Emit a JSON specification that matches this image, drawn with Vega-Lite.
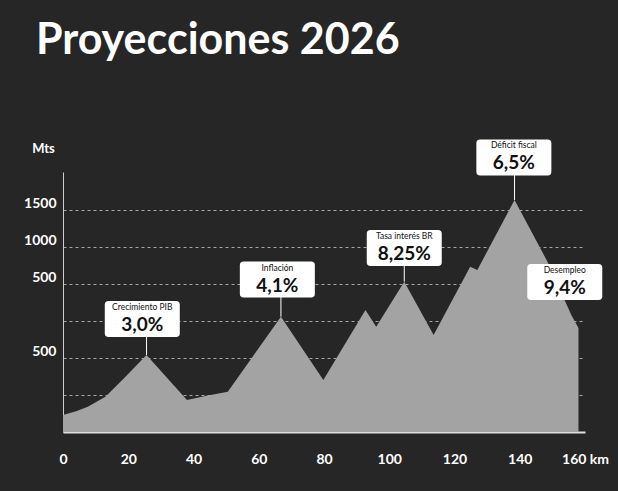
{
  "$schema": "https://vega.github.io/schema/vega-lite/v6.json",
  "width": 522,
  "height": 260,
  "autosize": {"type": "none"},
  "padding": {"left": 63, "top": 172, "right": 33, "bottom": 59},
  "background": "#262626",
  "title": {"text": "Proyecciones 2026", "anchor": "start", "frame": "group", "dx": -27, "offset": 76, "fontSize": 43, "font": "Lato", "fontWeight": "bold", "color": "white"},
  "config": {"view": {"stroke": null}},
  "datasets": {
    "perfil": [
      {"km": 0, "elev": 115},
      {"km": 4, "elev": 140},
      {"km": 7.6, "elev": 171},
      {"km": 13, "elev": 238},
      {"km": 19, "elev": 370},
      {"km": 25.6, "elev": 520},
      {"km": 38, "elev": 216},
      {"km": 44, "elev": 245},
      {"km": 50.5, "elev": 272},
      {"km": 66.8, "elev": 779},
      {"km": 79.8, "elev": 351},
      {"km": 92.7, "elev": 824},
      {"km": 96, "elev": 712},
      {"km": 104.6, "elev": 1016},
      {"km": 113.6, "elev": 655},
      {"km": 124.8, "elev": 1117},
      {"km": 127, "elev": 1095},
      {"km": 138.4, "elev": 1568},
      {"km": 148.5, "elev": 1151},
      {"km": 155.8, "elev": 791},
      {"km": 158, "elev": 703}
    ],
    "notas": [
      {"nombre": "Crecimiento PIB", "valor": "3,0%", "box_km": 24.3, "box_elev": 763, "peak_km": 25.6, "peak_elev": 520},
      {"nombre": "Inflación", "valor": "4,1%", "box_km": 65.7, "box_elev": 1030, "peak_km": 66.8, "peak_elev": 779},
      {"nombre": "Tasa interés BR", "valor": "8,25%", "box_km": 104.6, "box_elev": 1243, "peak_km": 104.6, "peak_elev": 1016},
      {"nombre": "Déficit fiscal", "valor": "6,5%", "box_km": 138.2, "box_elev": 1855, "peak_km": 138.4, "peak_elev": 1568},
      {"nombre": "Desempleo", "valor": "9,4%", "box_km": 153.8, "box_elev": 1014, "peak_km": null, "peak_elev": null}
    ]
  },
  "layer": [
    {
      "data": {"name": "perfil"},
      "mark": {"type": "area", "color": "#a3a3a3", "opacity": 1},
      "encoding": {
        "x": {"field": "km", "type": "quantitative", "scale": {"domain": [0, 160], "nice": false},
          "axis": {"title": null, "values": [0, 20, 40, 60, 80, 100, 120, 140, 160], "grid": false, "ticks": false, "domainColor": "#e0e0e0", "domainWidth": 2, "labelColor": "white", "labelFont": "Lato", "labelFontWeight": "bold", "labelFontSize": 14, "labelPadding": 20, "labelFlush": false, "labelExpr": "datum.value == 160 ? '160 km' : datum.label"}},
        "y": {"field": "elev", "type": "quantitative", "scale": {"domain": [0, 1757], "nice": false},
          "axis": {"title": "Mts", "titleAngle": 0, "titleX": -20, "titleY": -24, "titleColor": "white", "titleFont": "Lato", "titleFontSize": 13, "titleFontWeight": "bold", "titleAlign": "center", "titleBaseline": "middle",
            "values": [250, 500, 750, 1000, 1250, 1500],
            "labelExpr": "datum.value == 1500 ? '1500' : datum.value == 1250 ? '1000' : datum.value == 1000 ? '500' : datum.value == 500 ? '500' : ''",
            "grid": true, "gridDash": [3, 3], "gridColor": "white", "gridOpacity": 0.6, "ticks": false, "domainColor": "#cccccc", "labelColor": "white", "labelFont": "Lato", "labelFontWeight": "bold", "labelFontSize": 14, "labelPadding": 7, "labelBaseline": "bottom"}}
      }
    },
    {
      "data": {"name": "notas"},
      "transform": [{"filter": "isValid(datum.peak_elev)"}],
      "mark": {"type": "rule", "color": "white", "strokeWidth": 1},
      "encoding": {
        "x": {"field": "peak_km", "type": "quantitative"},
        "y": {"field": "box_elev", "type": "quantitative"},
        "y2": {"field": "peak_elev"}
      }
    },
    {
      "data": {"name": "notas"},
      "mark": {"type": "point", "filled": true, "color": "white", "opacity": 1, "size": 5625, "strokeWidth": 0,
        "shape": "M-0.9,-0.48 L0.9,-0.48 Q1,-0.48 1,-0.38 L1,0.38 Q1,0.48 0.9,0.48 L-0.9,0.48 Q-1,0.48 -1,0.38 L-1,-0.38 Q-1,-0.48 -0.9,-0.48 Z"},
      "encoding": {
        "x": {"field": "box_km", "type": "quantitative"},
        "y": {"field": "box_elev", "type": "quantitative"}
      }
    },
    {
      "data": {"name": "notas"},
      "mark": {"type": "text", "font": "Lato", "fontSize": 8.5, "color": "#111111", "dy": -12, "baseline": "middle"},
      "encoding": {
        "x": {"field": "box_km", "type": "quantitative"},
        "y": {"field": "box_elev", "type": "quantitative"},
        "text": {"field": "nombre"}
      }
    },
    {
      "data": {"name": "notas"},
      "mark": {"type": "text", "font": "Lato", "fontSize": 19, "fontWeight": "bold", "color": "#111111", "dy": 6, "baseline": "middle"},
      "encoding": {
        "x": {"field": "box_km", "type": "quantitative"},
        "y": {"field": "box_elev", "type": "quantitative"},
        "text": {"field": "valor"}
      }
    }
  ]
}
